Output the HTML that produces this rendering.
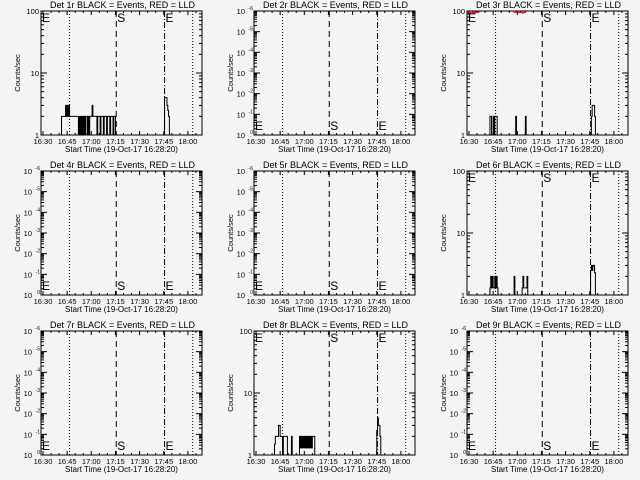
<!DOCTYPE html>
<html><head><meta charset="utf-8"><style>
body{margin:0;background:#f4f4f4}
svg{display:block}
text{font-family:"Liberation Sans",sans-serif;fill:#000}
</style></head><body>
<svg id="c" width="640" height="480" xmlns="http://www.w3.org/2000/svg"></svg>
<script>
// ---- data ----
const panelTitles = ["Det 1r","Det 2r","Det 3r","Det 4r","Det 5r","Det 6r","Det 7r","Det 8r","Det 9r"];
const panelHasData = [true,false,true,false,false,true,false,true,false];
const xTickLabels = ["16:30","16:45","17:00","17:15","17:30","17:45","18:00"];
const xTickMinutes = [0,15,30,45,60,75,90];
const markerMinutes = [16.5,45.5,75.5,93];
const logTickLabels = ["1","10","100"];
const expTickLabels = ["0","-1","-2","-3","-4","-5","-6"];
// event series: minutes since 16:30, counts/sec
const times1 = [11.5,13,14,14.5,15,15.5,16,16.5,17,19,21,22,22.5,23,23.5,24,24.5,25,25.5,26,26.5,27,27.5,28,28.5,29,29.5,30,30.5,31,32,33,33.5,34,35,35.5,36,37,37.5,38,39,39.5,40,41,41.5,42,43,43.5,44,45];
const counts1 = [2,2,3,2,3,2,3,2,2,2,2,1,2,1,2,1,2,1,2,1,2,2,1,2,1,2,2,2,3,2,2,2,1,2,2,1,2,2,1,2,2,1,2,2,1,2,2,1,2,1];
const times1b = [75.5,76.5,77,77.5,78];
const counts1b = [4,4,3,2.5,2];
const times3 = [13,14,15,15.5,16,17,17.5,18,29,29.5,35,35.5,76,76.5,77,78,78.5];
const counts3 = [2,1,2,1,2,2,1,1,2,1,2,1,2,3,3,2,1];
const timesRed3 = [-1,1,2,3,4,5,6,7];
const countsRed3 = [95,92,96,93,97,95,98,99];
const timesRed3b = [27,28,29,30,31,32,33,34,35];
const countsRed3b = [99,95,96,95,94,96,93,95,97];
const times6 = [13,13.5,14,14.5,15,16,16.5,17,17.5,18,28,28.5,33,33.5,34,36,36.5,75.5,76,76.5,77,78,78.5];
const counts6 = [1.3,2,1.3,2,1.3,2,1.3,2,1.3,1,2,1,1.3,2,1.3,2,1,2.5,3,2.5,3,2.3,1];
const times8 = [11.5,12,13,14,15,16,16.5,17,19,19.5,22,22.5,27,27.5,28,28.5,29,29.5,30,30.5,31,31.5,32,32.5,33,33.5,34,34.5,35,36,36.5,75,75.5,76,76.5,77];
const counts8 = [1.5,2,2,3,2,2,1,2,2,1,2,1,2,1.3,2,1.3,2,1.3,2,1.3,2,1.3,2,1.3,2,1.3,2,1.3,2,2,1,2.5,4,3,3,2];
const seriesByPanel = {0:[[times1,counts1],[times1b,counts1b]],2:[[times3,counts3]],5:[[times6,counts6]],7:[[times8,counts8]]};
const redByPanel = {2:[[timesRed3,countsRed3],[timesRed3b,countsRed3b]]};

// ---- layout ----
const svg=document.getElementById('c');
const NS="http://www.w3.org/2000/svg";
function mk(tag,attrs,parent){const e=document.createElementNS(NS,tag);for(const k in attrs)e.setAttribute(k,attrs[k]);(parent||svg).appendChild(e);return e;}
const colOff=[0,213,426], rowOff=[0,160,320];
const L=41,R=202,T=11,B=135;
panelTitles.forEach((title,i)=>{
  const ox=colOff[i%3], oy=rowOff[Math.floor(i/3)];
  const g=mk('g',{transform:`translate(${ox},${oy})`});
  
  
  const x=t=>L+2+t*1.61;
  const isLog=panelHasData[i];
  const y=isLog? v=>B-Math.log10(v)/2*(B-T) : d=>B-d/6*(B-T);
  // frame
  const fr=mk('rect',{x:L,y:T,width:R-L,height:B-T,fill:'none',stroke:'#000','stroke-width':1},g);
  
  
  // title
  const tt=mk('text',{x:(L+R)/2+1,y:8,'font-size':9,'text-anchor':'middle'},g);
  tt.textContent=title+" BLACK = Events, RED = LLD";
  
  
  // x ticks
  xTickMinutes.forEach((m,k)=>{
    const xx=x(m);
    mk('line',{x1:xx,x2:xx,y1:B,y2:B-4,stroke:'#000'},g);
    mk('line',{x1:xx,x2:xx,y1:T,y2:T+4,stroke:'#000'},g);
    const lb=mk('text',{x:xx,y:B+9,'font-size':7.5,'text-anchor':'middle'},g);
    lb.textContent=xTickLabels[k];
    
    
  });
  for(let m=5;m<100;m+=5){if(m%15){const xx=x(m);if(xx<R){mk('line',{x1:xx,x2:xx,y1:B,y2:B-2,stroke:'#000'},g);mk('line',{x1:xx,x2:xx,y1:T,y2:T+2,stroke:'#000'},g);}}}
  const xt=mk('text',{x:(L+R)/2,y:B+17,'font-size':8,'text-anchor':'middle'},g);
  xt.textContent="Start Time (19-Oct-17 16:28:20)";
  
  
  const yt=mk('text',{x:0,y:0,'font-size':7.5,'text-anchor':'middle',transform:`translate(20,${(T+B)/2}) rotate(-90)`},g);
  yt.textContent="Counts/sec";
  
  
  // y ticks
  if(isLog){
    logTickLabels.forEach((lab,k)=>{
      const yy=y(Math.pow(10,k));
      mk('line',{x1:L,x2:L+6,y1:yy,y2:yy,stroke:'#000'},g);
      mk('line',{x1:R,x2:R-6,y1:yy,y2:yy,stroke:'#000'},g);
      const t=mk('text',{x:L-2,y:yy+3,'font-size':7.5,'text-anchor':'end'},g);
      t.textContent=lab;
      
      
    });
    for(let d=0;d<2;d++)for(let m=2;m<10;m++){const yy=y(m*Math.pow(10,d));mk('line',{x1:L,x2:L+3,y1:yy,y2:yy,stroke:'#000'},g);mk('line',{x1:R,x2:R-3,y1:yy,y2:yy,stroke:'#000'},g);}
  } else {
    expTickLabels.forEach((lab,k)=>{
      const yy=y(k);
      mk('line',{x1:L,x2:L+6,y1:yy,y2:yy,stroke:'#000'},g);
      mk('line',{x1:R,x2:R-6,y1:yy,y2:yy,stroke:'#000'},g);
      const t=mk('text',{x:L-9,y:yy+3,'font-size':7.5,'text-anchor':'end'},g);
      t.textContent="10";
      
      
      const s=mk('text',{x:L-1,y:yy-1,'font-size':5,'text-anchor':'end'},g);
      s.textContent=lab;
    });
    for(let d=0;d<6;d++)for(let m=2;m<10;m++){const yy=y(d+Math.log10(m));mk('line',{x1:L,x2:L+3,y1:yy,y2:yy,stroke:'#000'},g);mk('line',{x1:R,x2:R-3,y1:yy,y2:yy,stroke:'#000'},g);}
  }
  // marker lines
  const dashes=['1,2','6,4','',  '1,2'];
  const styles=['1,2','6,4','6,2,1,2','1,2'];
  markerMinutes.forEach((m,k)=>{
    const ln=mk('line',{x1:x(m),x2:x(m),y1:T,y2:B,stroke:'#000','stroke-dasharray':styles[k]},g);
    
    
  });
  // letters
  const ly=isLog?T+11:B-5;
  [[L+1,'E'],[x(markerMinutes[1])+1,'S'],[x(markerMinutes[2])+1,'E']].forEach(([lx,ch])=>{
    const t=mk('text',{x:lx,y:ly,'font-size':12},g);
    t.textContent=ch;
    
    
  });
  // series
  const step=(ts,cs,color)=>{
    let d='';
    ts.forEach((t,k)=>{
      const xx=x(t), yy=y(Math.min(cs[k],100));
      if(k===0) d+=`M${xx},${color?yy:B}L${xx},${yy}`;
      else d+=`L${xx},${y(Math.min(cs[k-1],100))}L${xx},${yy}`;
    });
    const last=ts.length-1;
    d+=`L${x(ts[last])+0.8},${y(Math.min(cs[last],100))}`;
    if(!color) d+=`L${x(ts[last])+0.8},${B}`;
    const p=mk('path',{d:d,fill:'none',stroke:color||'#000','stroke-width':1},g);
    
    
  };
  (seriesByPanel[i]||[]).forEach(s=>step(s[0],s[1]));
  (redByPanel[i]||[]).forEach(s=>step(s[0],s[1],'#e00000'));
});
</script>
</body></html>
